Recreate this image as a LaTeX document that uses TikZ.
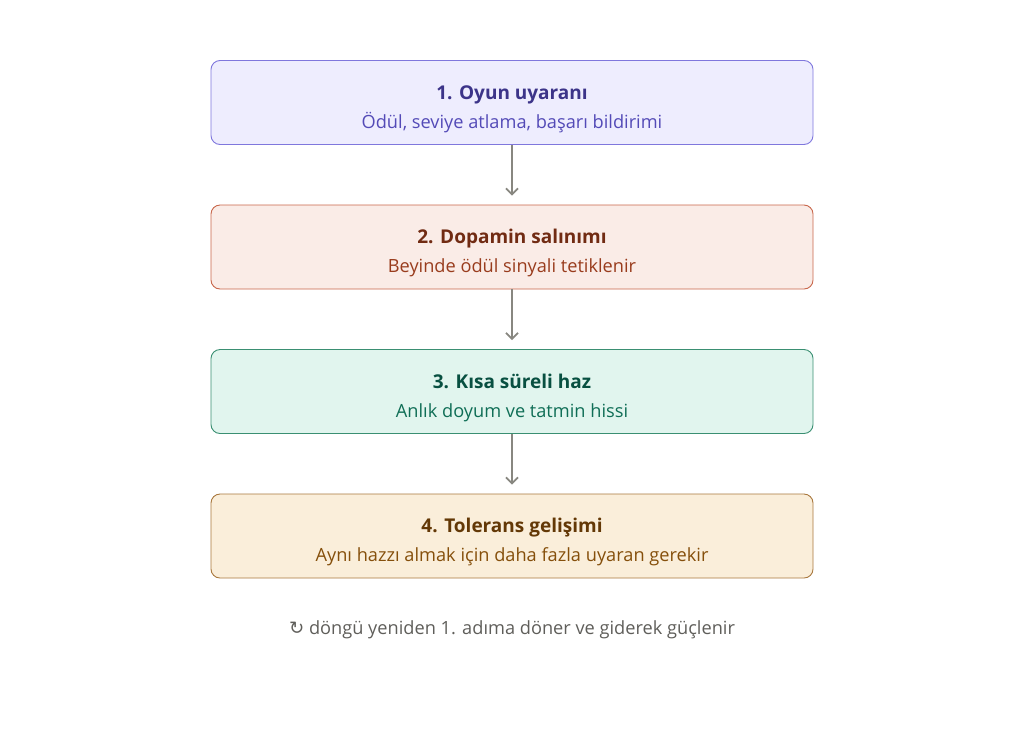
\documentclass[tikz,border=0pt]{standalone}
\usepackage{fontspec}
\setmainfont{Open Sans}
\newfontfamily\symfont{DejaVu Sans}
\usepackage{xcolor}
\usepackage{tikz}
\usetikzlibrary{arrows.meta}
\definecolor{purplefill}{HTML}{EEEDFE}
\definecolor{purpledraw}{HTML}{7F77DD}
\definecolor{purpletitle}{HTML}{3C3489}
\definecolor{purpletext}{HTML}{534AB7}
\definecolor{coralfill}{HTML}{FAECE7}
\definecolor{coraldraw}{HTML}{C8664A}
\definecolor{coraltitle}{HTML}{712B13}
\definecolor{coraltext}{HTML}{993C1D}
\definecolor{tealfill}{HTML}{E1F5EE}
\definecolor{tealdraw}{HTML}{3A8F72}
\definecolor{tealtitle}{HTML}{085041}
\definecolor{tealtext}{HTML}{0F6E56}
\definecolor{amberfill}{HTML}{FAEEDA}
\definecolor{amberdraw}{HTML}{A8773C}
\definecolor{ambertitle}{HTML}{633806}
\definecolor{ambertext}{HTML}{854F0B}
\definecolor{arrowgray}{HTML}{888780}
\definecolor{notegray}{HTML}{5F5E5A}
\tikzset{
stepboxv1/.style={rectangle, rounded corners=9pt, line width=0.9pt, inner sep=0pt, minimum width=602pt, minimum height=84pt},
titletext/.style={anchor=base, font=\fontsize{19}{23}\selectfont\bfseries, inner sep=0pt},
subtext/.style={anchor=base, font=\fontsize{18.2}{22}\selectfont, inner sep=0pt},
flowarrow/.style={draw=arrowgray, line width=1.8pt, -{Straight Barb[length=6pt,width=12pt,line width=1.8pt]}},
}
\begin{document}
\begin{tikzpicture}[x=1pt,y=-1pt]
\useasboundingbox (0,0) rectangle (1024,753);
\node[stepboxv1, draw=purpledraw, fill=purplefill] at (512,102.5) (box1) {};
\node[titletext, text=purpletitle] at (512,99) (title1) {1. Oyun uyaranı};
\node[subtext, text=purpletext] at (512,128) (sub1) {Ödül, seviye atlama, başarı bildirimi};

\node[stepboxv1, draw=coraldraw, fill=coralfill] at (512,247) (box2) {};
\node[titletext, text=coraltitle] at (512,243) (title2) {2. Dopamin salınımı};
\node[subtext, text=coraltext] at (512,272) (sub2) {Beyinde ödül sinyali tetiklenir};

\node[stepboxv1, draw=tealdraw, fill=tealfill] at (512,391.5) (box3) {};
\node[titletext, text=tealtitle] at (512,388) (title3) {3. Kısa süreli haz};
\node[subtext, text=tealtext] at (512,417) (sub3) {Anlık doyum ve tatmin hissi};

\node[stepboxv1, draw=amberdraw, fill=amberfill] at (512,536) (box4) {};
\node[titletext, text=ambertitle] at (512,532) (title4) {4. Tolerans gelişimi};
\node[subtext, text=ambertext] at (512,561) (sub4) {Aynı hazzı almak için daha fazla uyaran gerekir};

\node[subtext, text=notegray] at (512,634) (note) {{\symfont ↻} döngü yeniden 1. adıma döner ve giderek güçlenir};

\draw[flowarrow] (box1.south) -- ([yshift=9pt]box2.north);
\draw[flowarrow] (box2.south) -- ([yshift=9pt]box3.north);
\draw[flowarrow] (box3.south) -- ([yshift=9pt]box4.north);
\end{tikzpicture}
\end{document}
